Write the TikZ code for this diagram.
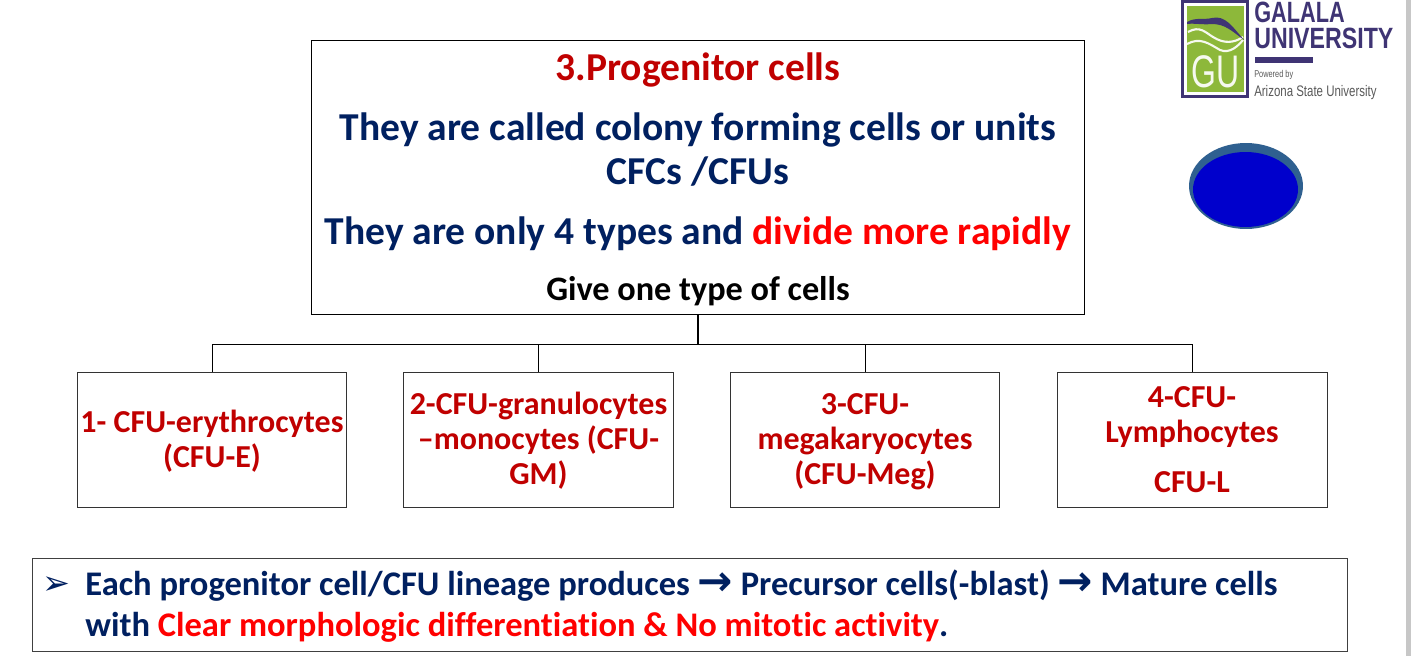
\documentclass[tikz,border=0pt]{standalone}
\usepackage{fontspec}
\setmainfont[Ligatures=NoCommon]{Carlito}
\newfontfamily\arrowfont{DejaVu Sans}
\newfontfamily\logofont{Liberation Sans}
\usetikzlibrary{positioning,calc,shapes.geometric}
\definecolor{navy}{HTML}{002060}
\definecolor{darkred}{HTML}{C00000}
\definecolor{logopurple}{HTML}{3F3474}
\definecolor{logogreen}{HTML}{8DB83A}
\definecolor{cellrim}{HTML}{2F6090}
\definecolor{cellblue}{HTML}{0000CC}
\tikzset{
  topbox/.style={rectangle,draw=black,line width=0.55pt,fill=white,align=center,
    minimum width=15.48cm,minimum height=5.5cm,inner sep=0pt,font=\fontsize{22.5}{25}\bfseries\selectfont,text=navy},
  cfubox/.style={rectangle,draw=black!80,line width=0.55pt,fill=white,align=center,
    minimum width=5.4cm,minimum height=2.7cm,inner sep=0pt,text=darkred,
    font=\fontsize{18.2}{20}\bfseries\selectfont},
  notebox/.style={rectangle,draw=black!75,line width=0.55pt,fill=white,
    minimum width=26.32cm,minimum height=1.86cm,inner sep=0pt},
  noteline/.style={anchor=base west,inner sep=0pt,text=navy,font=\fontsize{19.65}{22}\bfseries\selectfont},
  conn/.style={draw=black,line width=0.55pt},
  logotxt/.style={inner sep=0pt,anchor=base west,text=black!65},
  logoname/.style={inner sep=0pt,anchor=base west,text=logopurple,font=\logofont\bfseries\fontsize{16.7}{16.7}\selectfont},
}
\newcommand{\rarrow}{{\arrowfont\bfseries\fontsize{24}{19}\selectfont →}}
\begin{document}
\begin{tikzpicture}[x=0.02cm,y=-0.02cm]
  \clip (0,0) rectangle (1411,656);
  \fill[white] (0,0) rectangle (1411,656);
  \fill[black!22] (1406,0) rectangle (1411,656);
  % main box
  \node[topbox] (top) at (698,177.5) {%
    \rule{0pt}{18pt}{\color{darkred}3.Progenitor cells}\\[9pt]
    They are called colony forming cells or units\\
    CFCs /CFUs\\[9pt]
    They are only 4 types and {\color{red}divide more rapidly}\\[7pt]
    {\color{black}\fontsize{19.5}{20}\selectfont Give one type of cells}};
  % four lineages
  \node[cfubox] (cfue) at (212,439.5) {\rule{0pt}{14.5pt}1- CFU-erythrocytes\\(CFU-E)};
  \node[cfubox] (cfugm) at (538.5,439.5) {\rule{0pt}{14.5pt}2-CFU-granulocytes\\--monocytes (CFU-\\GM)};
  \node[cfubox] (cfumeg) at (865,439.5) {\rule{0pt}{14.5pt}3-CFU-\\megakaryocytes\\(CFU-Meg)};
  \node[cfubox] (cful) at (1192,439.5) {4-CFU-\\Lymphocytes\\[8pt]CFU-L};
  \coordinate (bus) at (698,344);
  \draw[conn,line width=.9pt] (top.south) -- (bus);
  \foreach \kid in {cfue,cfugm,cfumeg,cful}
    \draw[conn] (bus) -| (\kid.north);
  % note at the bottom
  \node[notebox] (note) at (690,604.5) {};
  \node[anchor=base west,inner sep=0pt,text=navy,font=\arrowfont\fontsize{19}{19}\selectfont] (bullet) at (42,594) {➢};
  \node[noteline] (lineone) at (85,595)
    {Each progenitor cell/CFU lineage produces \rarrow\ Precursor cells(-blast) \rarrow\ Mature cells};
  \node[noteline] (linetwo) at (85,636)
    {with {\color{red}Clear morphologic differentiation \& No mitotic activity}.};
  % logo
  \node[rectangle,draw=logopurple,line width=1.7pt,fill=white,minimum width=1.3cm,minimum height=1.9cm,inner sep=0pt] (frame) at (1215,49) {};
  \node[rectangle,fill=logogreen,minimum width=1.14cm,minimum height=1.72cm,inner sep=0pt] (crest) at (1215.5,49) {};
  \draw[white!92!logogreen,line width=1.2pt] (1188,32) .. controls (1200,25) and (1206,33) .. (1213,37) .. controls (1224,44) and (1234,43) .. (1243,37);
  \draw[white!92!logogreen,line width=1.2pt] (1187,44) .. controls (1200,37) and (1208,43) .. (1220,50) .. controls (1230,54) and (1238,46) .. (1243,40);
  \fill[logopurple] (1187,22) .. controls (1195,17) and (1205,20) .. (1212,18) .. controls (1225,15) and (1232,26) .. (1244,40) .. controls (1232,31) and (1225,24) .. (1212,24) .. controls (1202,25) and (1195,23) .. (1187,24) -- cycle;
  \node[inner sep=0pt,text=white!92!logogreen,xscale=.7,font=\logofont\fontsize{26}{26}\selectfont] (gu) at (1215.5,71.5) {GU};
  \node[logoname,xscale=.74] (galala) at (1254,22) {GALALA};
  \node[logoname,xscale=.79] (univ) at (1254,48) {UNIVERSITY};
  \fill[logopurple] (1255,57) rectangle (1313,63);
  \node[logotxt,xscale=.75,font=\logofont\fontsize{5.6}{5.6}\selectfont] (powered) at (1254,77) {Powered by};
  \node[logotxt,xscale=.75,font=\logofont\fontsize{8.7}{8.7}\selectfont] (asu) at (1254,96) {Arizona State University};
  % cell
  \node[ellipse,fill=cellrim,minimum width=2.28cm,minimum height=1.72cm,inner sep=0pt] (cell) at (1246,186) {};
  \node[ellipse,fill=cellblue,minimum width=2.1cm,minimum height=1.5cm,inner sep=0pt] (cellcore) at (1245.5,189.5) {};
\end{tikzpicture}
\end{document}
